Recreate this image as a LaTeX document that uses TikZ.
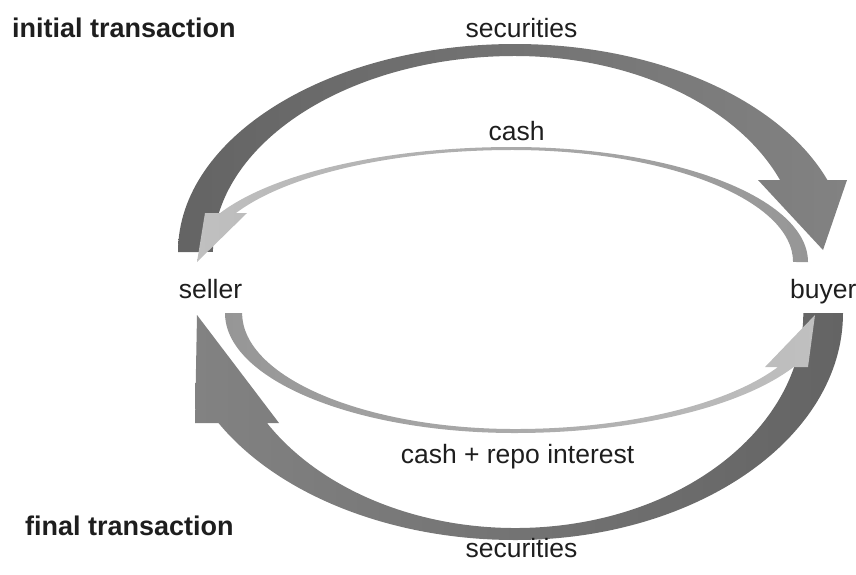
\documentclass[tikz,border=0pt]{standalone}
\usepackage{fontspec}
\setmainfont{Liberation Sans}
\definecolor{secdark}{RGB}{100,100,100}
\definecolor{seclight}{RGB}{130,130,130}
\definecolor{cashdark}{RGB}{150,150,150}
\definecolor{cashlight}{RGB}{192,192,192}
\definecolor{txt}{RGB}{30,30,30}
\tikzset{
  lbl/.style={inner sep=0pt, text=txt, font=\fontsize{26.5}{30}\selectfont},
  hdr/.style={inner sep=0pt, text=txt, font=\fontsize{27}{30}\selectfont\bfseries},
}
\begin{document}
\begin{tikzpicture}[x=1pt,y=-1pt]
\useasboundingbox (0,0) rectangle (856,574);
% top securities (seller -> buyer)
\shade[left color=secdark, right color=seclight]
  (178,252) arc[start angle=180, end angle=270, x radius=337, y radius=208]
  arc[start angle=270, end angle=339.75, x radius=333, y radius=208]
  -- (847,180) -- (823,250) -- (758,180) -- (780,180)
  arc[start angle=338.45, end angle=270, x radius=285, y radius=196]
  arc[start angle=270, end angle=180, x radius=302, y radius=196]
  -- cycle;
% bottom securities (buyer -> seller)
\shade[left color=seclight, right color=secdark]
  (843,313) arc[start angle=0, end angle=90, x radius=328, y radius=227]
  arc[start angle=90, end angle=151.01, x radius=339, y radius=227]
  -- (195,423) -- (197,315) -- (279,423) -- (267,423)
  arc[start angle=149.23, end angle=90, x radius=289, y radius=215]
  arc[start angle=90, end angle=0, x radius=288, y radius=215]
  -- cycle;
% top cash (buyer -> seller)
\shade[left color=cashlight, right color=cashdark]
  (808,262) arc[start angle=360, end angle=270, x radius=296, y radius=115]
  arc[start angle=270, end angle=205.2, x radius=322.6, y radius=115]
  -- (205,213) -- (197,262) -- (247,213) -- (236,213)
  arc[start angle=205.94, end angle=270, x radius=307, y radius=112]
  arc[start angle=270, end angle=360, x radius=281, y radius=112]
  -- cycle;
% bottom cash + repo interest (seller -> buyer)
\shade[left color=cashdark, right color=cashlight]
  (225,313) arc[start angle=180, end angle=90, x radius=290, y radius=120]
  arc[start angle=90, end angle=26.74, x radius=312, y radius=120]
  -- (808,367) -- (815,315) -- (765,367) -- (778,367)
  arc[start angle=27.74, end angle=90, x radius=297, y radius=116]
  arc[start angle=90, end angle=180, x radius=273, y radius=116]
  -- cycle;
% labels
\node[hdr, anchor=base west] (init) at (12,37) {initial transaction};
\node[hdr, anchor=base west] (final) at (25,535) {final transaction};
\node[lbl, anchor=base] (sectop) at (521.5,37) {securities};
\node[lbl, anchor=base] (cashtop) at (516.5,140) {cash};
\node[lbl, anchor=base] (seller) at (210.5,298) {seller};
\node[lbl, anchor=base west] (buyer) at (790,298) {buyer};
\node[lbl, anchor=base] (cashint) at (517.5,463) {cash + repo interest};
\node[lbl, anchor=base] (secbot) at (521.5,557) {securities};
\end{tikzpicture}
\end{document}
